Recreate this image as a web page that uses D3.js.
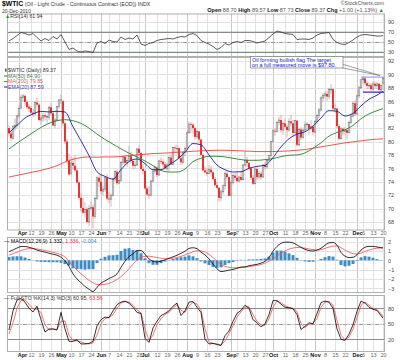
<!DOCTYPE html>
<html><head><meta charset="utf-8">
<script src="https://cdn.jsdelivr.net/npm/d3@7/dist/d3.min.js"></script>
<style>body{margin:0;background:#fff}svg{display:block;font-family:"Liberation Sans",Arial,sans-serif}</style>
</head><body><svg id="c" width="400" height="360"></svg>
<script>
// ---------- DATA ----------
const startDate = "2010-03-25", endDate = "2010-12-20";
const holidays = ["2010-04-02","2010-05-31","2010-07-05","2010-09-06","2010-11-25"];
const tickDates = ["2010-04-01","2010-04-12","2010-04-19","2010-04-26","2010-05-03","2010-05-10","2010-05-17","2010-05-24","2010-06-01","2010-06-07","2010-06-14","2010-06-21","2010-06-28","2010-07-01","2010-07-12","2010-07-19","2010-07-26","2010-08-02","2010-08-09","2010-08-16","2010-08-23","2010-09-01","2010-09-07","2010-09-13","2010-09-20","2010-09-27","2010-10-01","2010-10-11","2010-10-18","2010-10-25","2010-11-01","2010-11-08","2010-11-15","2010-11-22","2010-12-01","2010-12-06","2010-12-13","2010-12-20"];
const tickLabels = ["Apr","12","19","26","May","10","17","24","Jun","7","14","21","28","Jul","12","19","26","Aug","9","16","23","Sep","7","13","20","27","Oct","11","18","25","Nov","8","15","22","Dec","6","13","20"];
const monthLabels = ["Apr","May","Jun","Jul","Aug","Sep","Oct","Nov","Dec"];

const openP = [82.0,81.2,80.5,82.2,82.4, 83.8,85.0,86.6,86.8,85.9, 85.2,85.0,84.3,84.1,85.8, 85.5,83.2,83.5,83.9,83.7, 83.6,85.1,84.2,82.4,83.2, 85.2,86.2,86.0,82.7,80.0, 77.1,75.2,76.8,76.4,75.7, 73.9,71.6,70.1,69.4,69.9, 68.0,70.0,70.2,68.8,71.5, 74.6,74.0,72.6,72.9,74.6, 71.5,71.4,72.0,74.4,75.5, 73.8,74.2,76.9,77.7,76.8, 77.2,77.8,77.1,76.4,76.5, 78.9,78.3,75.9,75.6,73.0, 72.1,72.0,74.1,75.6,76.1, 75.0,77.1,77.0,76.6,76.0, 76.5,77.6,76.6,79.1,79.0, 79.0,77.5,76.9,78.4,79.0, 81.3,82.6,82.5,82.0,80.7, 81.5,80.3,78.0,75.7,75.4, 75.2,75.8,75.4,74.4,73.5, 73.1,71.6,72.5,73.4,75.2, 74.7,72.0,73.9,74.9,74.6, 74.1,74.7,74.3,76.5,77.2, 76.8,76.0,74.6,73.7,75.9, 74.7,75.2,74.7,76.5,76.2, 77.2,77.9,80.0,81.6,81.5, 82.8,83.2,81.7,82.7,82.2, 81.7,83.0,82.7,81.3,83.1, 79.5,81.8,80.6,81.7,82.5, 82.6,81.9,82.2,81.4,83.0, 83.9,84.7,86.5,86.9,87.1, 86.7,87.8,87.8,84.9,84.9, 82.3,80.4,81.9,81.5,81.7, 81.3,82.8,83.8,85.7,84.1, 86.8,88.0,89.2,89.4,88.7, 88.3,88.4,87.8,88.6,88.3, 88.6,87.7,88.70];
const highP = [82.5,81.6,82.4,83.4,84.0, 85.4,87.0,87.1,87.0,86.2, 85.6,85.3,84.8,86.0,86.5, 85.7,83.9,84.3,84.2,84.0, 85.3,85.8,84.5,83.5,85.3, 86.3,87.0,86.2,83.0,80.4, 78.2,77.8,77.6,77.9,76.0, 74.2,72.3,71.6,71.0,70.2, 70.5,71.2,70.6,71.8,74.8, 75.0,75.0,73.4,74.8,75.1, 72.5,72.2,74.6,75.7,75.8, 75.0,77.1,77.9,77.9,77.5, 79.4,78.5,77.3,77.1,79.0, 79.4,78.4,76.6,75.8,73.4, 73.3,74.3,75.7,76.4,76.3, 77.3,77.6,77.4,77.0,76.8, 77.8,78.0,79.2,79.4,79.5, 79.2,77.9,78.6,79.2,81.5, 83.0,82.9,82.7,82.2,81.8, 81.6,80.4,78.2,76.3,76.0, 76.5,76.4,75.6,74.7,74.0, 73.2,72.8,73.6,75.6,75.6, 74.8,74.2,75.2,75.3,75.4, 74.9,75.5,76.6,78.5,77.7, 77.0,76.2,75.0,76.1,76.4, 75.6,75.6,76.6,77.0,77.3, 78.0,80.1,81.9,82.0,83.0, 83.7,84.0,83.0,83.4,82.5, 83.5,84.0,83.2,83.2,83.2, 82.0,82.1,81.9,83.0,82.9, 82.6,83.2,82.4,83.2,84.1, 85.0,86.8,87.2,87.5,87.5, 88.0,88.6,87.9,85.6,85.0, 82.6,82.2,82.1,82.2,81.8, 83.1,84.2,86.0,86.1,87.0, 88.3,89.4,89.6,89.7,89.0, 88.9,88.7,89.0,89.0,88.9, 88.7,88.6,89.57];
const lowP = [80.8,80.1,80.3,81.6,82.0, 83.5,84.8,85.9,85.3,84.8, 84.4,84.0,83.7,84.0,85.2, 83.0,82.4,82.9,83.1,82.6, 83.2,83.9,82.2,82.0,83.0, 84.9,85.6,82.3,79.6,76.8, 74.9,75.0,75.8,75.5,73.7, 71.3,69.5,69.2,68.7,67.8, 67.4,69.7,67.0,68.5,71.3, 73.2,72.2,71.9,72.5,71.2, 70.8,70.3,71.8,74.0,73.5, 73.6,74.0,76.5,76.4,76.2, 77.0,76.8,75.8,75.9,76.3, 78.0,75.7,75.1,72.8,71.9, 71.5,71.9,73.9,75.2,74.7, 74.9,76.6,76.0,75.8,75.7, 75.5,76.4,76.5,78.4,78.2, 77.3,76.5,76.7,77.8,79.0, 81.2,81.3,81.2,80.2,80.4, 79.8,77.9,75.6,75.3,74.9, 75.1,75.2,74.2,73.2,72.9, 71.0,71.1,72.1,72.8,74.3, 71.9,71.8,73.6,74.2,73.9, 73.9,74.1,74.2,76.3,76.2, 75.7,74.3,73.5,73.6,74.2, 74.3,74.3,74.6,75.8,75.9, 76.9,77.6,79.8,80.9,81.3, 82.5,81.3,81.0,81.9,80.6, 81.5,82.4,80.8,81.1,79.2, 79.3,80.3,80.3,81.5,81.6, 81.0,81.7,80.9,81.2,82.7, 83.4,84.6,86.0,86.4,86.0, 86.3,87.1,84.6,84.3,82.0, 80.2,80.3,80.9,80.9,80.3, 81.2,82.6,83.6,83.8,84.0, 86.4,87.8,88.6,88.4,87.8, 87.8,87.5,87.6,87.9,87.8, 87.5,87.5,87.73];
const closeP = [81.2,80.5,82.2,82.4,83.8, 84.9,86.6,86.8,85.9,85.1, 84.9,84.3,84.1,85.8,85.5, 83.2,83.5,83.9,83.7,83.7, 85.1,84.2,82.4,83.2,85.2, 86.2,86.2,82.7,80.0,77.1, 75.1,76.8,76.4,75.7,73.9, 71.6,70.1,69.4,69.9,68.0, 70.0,70.2,68.8,71.5,74.6, 74.0,72.6,72.9,74.6,71.5, 71.4,72.0,74.4,75.5,73.8, 74.2,76.9,77.7,76.8,77.2, 77.8,77.1,76.4,76.5,78.9, 78.3,75.9,75.6,73.0,72.1, 72.0,74.1,75.6,76.1,75.0, 77.1,77.0,76.6,76.0,76.5, 77.6,76.6,79.1,79.0,79.0, 77.5,76.9,78.4,79.0,81.3, 82.6,82.5,82.0,80.7,81.5, 80.3,78.0,75.7,75.4,75.2, 75.8,75.4,74.4,73.5,73.1, 71.6,72.5,73.4,75.2,74.7, 71.9,73.9,74.9,74.6,74.1, 74.7,74.3,76.5,77.2,76.8, 76.0,74.6,73.7,75.9,74.7, 75.2,74.7,76.5,76.2,77.2, 77.9,80.0,81.6,81.5,82.8, 83.2,81.7,82.7,82.2,81.7, 83.0,82.7,81.3,83.1,79.5, 81.8,80.6,81.7,82.5,82.6, 81.9,82.2,81.4,83.0,83.9, 84.7,86.5,86.9,87.1,86.7, 87.8,87.8,84.9,84.9,82.3, 80.4,81.9,81.5,81.7,81.3, 82.8,83.8,85.7,84.1,86.8, 88.0,89.2,89.4,88.7,88.3, 88.4,87.8,88.6,88.3,88.6, 87.7,88.37,89.37];

// moving averages read every 4 trading days (plus last day)
const ema20 = [81.3,82.4,83.5,84.1,84.5,84.4,84.5,84.4,82.2,80.1,77.9,75.5,74.8,74.4,75.8,77.0,77.4,76.7,75.8,75.8,76.5,77.3,78.4,79.7,79.5,78.0,76.5,75.8,75.45,75.5,76.0,76.3,76.45,77.6,79.2,80.4,81.1,81.45,82.3,83.5,84.6,84.5,83.8,84.2,85.3,86.3,86.9,87.5];
const sma50 = [78.9,79.75,80.55,81.35,82.1,82.7,83.1,83.25,83.1,82.7,82.0,81.1,80.3,79.6,78.9,78.25,77.7,77.1,76.4,75.7,75.45,75.45,75.9,77.0,77.5,77.8,77.8,77.7,77.5,77.3,77.2,77.2,77.3,77.45,77.75,77.95,78.0,78.3,79.0,79.8,80.8,81.35,81.75,82.4,83.4,84.1,84.6,84.9];
const sma200 = [74.7,74.95,75.2,75.45,75.7,76.0,76.4,76.95,77.35,77.6,77.7,77.65,77.7,77.7,77.75,77.9,78.0,78.1,78.2,78.25,78.3,78.4,78.45,78.55,78.6,78.65,78.7,78.7,78.65,78.6,78.55,78.5,78.5,78.5,78.55,78.6,78.7,78.8,79.0,79.2,79.4,79.6,79.8,79.95,80.1,80.25,80.35,80.4];

// indicators read every 2 trading days (plus last day)
const rsi14 = [51,56,62,68,66,63,66,58,51,56,52,60,55,64,49,34,37,31,29,31,30,28,47,50,46,53,50,49,59,54,57,55,63,45,42,46,48,52,54,55,56,55,58,60,59,64,66,62,52,48,45,40,34,38,46,43,48,50,48,52,52,50,47,49,51,58,65,71,69,66,65,64,54,55,55,54,57,63,66,67,68,54,48,45,44,48,53,59,63,64,63,62,61,61,61.94];
const macdLine = [0.92,1.12,1.32,1.48,1.48,1.40,1.28,1.10,0.98,0.88,0.76,0.66,0.55,0.34,-0.05,-0.65,-1.45,-2.0,-2.4,-2.8,-3.1,-3.35,-2.9,-2.45,-2.2,-1.95,-1.75,-1.45,-0.75,-0.1,0.4,0.7,1.05,1.05,0.65,0.15,-0.1,-0.18,-0.08,0.05,0.22,0.38,0.54,0.75,0.98,1.28,1.35,1.25,0.88,0.58,0.15,-0.4,-0.9,-1.2,-1.15,-1.05,-0.98,-0.85,-0.72,-0.7,-0.58,-0.5,-0.43,-0.3,-0.1,0.3,0.98,1.5,1.82,1.95,1.95,1.88,1.65,1.4,1.18,1.05,1.0,1.1,1.3,1.62,1.88,1.92,1.62,0.85,0.45,0.3,0.33,0.6,1.1,1.4,1.5,1.5,1.43,1.36,1.332];
const signalLine = [0.56,0.7,0.88,1.05,1.18,1.25,1.26,1.22,1.15,1.06,0.96,0.86,0.76,0.6,0.36,-0.1,-0.6,-1.05,-1.45,-1.8,-2.15,-2.4,-2.6,-2.62,-2.58,-2.48,-2.3,-2.05,-1.75,-1.35,-0.9,-0.4,0.0,0.3,0.43,0.45,0.38,0.3,0.22,0.18,0.18,0.23,0.3,0.42,0.58,0.75,0.92,1.02,1.0,0.9,0.65,0.3,-0.1,-0.45,-0.65,-0.75,-0.8,-0.8,-0.78,-0.74,-0.68,-0.6,-0.54,-0.45,-0.3,-0.1,0.15,0.45,0.78,1.02,1.2,1.32,1.38,1.36,1.3,1.22,1.15,1.1,1.15,1.28,1.42,1.52,1.55,1.35,1.1,0.88,0.72,0.68,0.78,0.95,1.1,1.22,1.3,1.33,1.336];
const stoK = [38,75,96,99,92,80,73,84,58,34,40,40,38,72,40,16,16,19,11,11,12,16,46,58,63,62,75,87,92,94,90,82,72,70,22,14,42,55,66,70,75,84,90,66,75,92,93,82,72,20,11,12,10,8,27,36,55,70,76,86,80,58,52,44,50,68,95,95,88,82,81,79,68,39,45,52,50,70,91,94,92,80,40,20,18,30,48,74,94,90,82,78,76,66,60.95];
const stoD = [30,52,80,95,96,88,79,78,72,48,38,40,39,55,55,28,18,17,15,12,11,13,28,50,60,62,68,80,90,93,92,86,77,71,40,18,28,48,60,68,72,80,87,76,72,84,92,88,77,40,15,12,11,9,17,31,46,63,73,82,83,68,55,48,47,60,82,94,91,85,82,80,74,50,43,49,51,60,82,92,93,86,57,28,19,24,40,62,86,92,86,80,77,70,63.56];

const priceTicks = [68,70,72,74,76,78,80,82,84,86,88,90,92];
const rsiTicks = [30,50,70,90];
const macdTicks = [-3,-2,-1,0,1,2];
const stoTicks = [20,50,80];
const flagTop = 89.6, flagBottom = 87.35;

// ---------- BUILD ----------
const tradingDays = [];
for (let d = new Date(startDate + "T00:00:00Z"); d <= new Date(endDate + "T00:00:00Z"); d.setUTCDate(d.getUTCDate() + 1)) {
  const wd = d.getUTCDay(), s = d.toISOString().slice(0, 10);
  if (wd === 0 || wd === 6 || holidays.includes(s)) continue;
  tradingDays.push(s);
}
const N = tradingDays.length;
const last = N - 1;
const maDays = d3.range(0, N - 1, 4).concat([last]);
const indDays = d3.range(0, N - 1, 2).concat([last]);
const tickIdx = tickDates.map(s => tradingDays.indexOf(s));

const L = 7, R = 385;
const x = d3.scaleLinear().domain([0, last]).range([9, 383]);
const P = {rsi: [13.5, 57], price: [57, 230.5], macd: [237, 293], sto: [295, 352]};
const yR = d3.scaleLinear().domain([30, 70]).range([51.5, 31.5]);
const yP = d3.scaleLinear().domain([68, 92]).range([222, 61]);
const yM = d3.scaleLinear().domain([-3, 2]).range([288.3, 241.7]);
const yS = d3.scaleLinear().domain([20, 80]).range([339.3, 308.3]);

const svg = d3.select("#c");
const defs = svg.append("defs");
Object.entries(P).forEach(([k, [t, b]]) => {
  defs.append("clipPath").attr("id", "clip-" + k).append("rect").attr("x", L).attr("y", t).attr("width", R - L).attr("height", b - t);
});
const gridC = "#e2e2e2";

function panel(key, yScale, ticks) {
  const [t, b] = P[key];
  const g = svg.append("g");
  g.append("rect").attr("x", L).attr("y", t).attr("width", R - L).attr("height", b - t).attr("fill", "#fff");
  g.selectAll(".vg").data(tickIdx).join("line")
    .attr("x1", d => x(d) + 0.5).attr("x2", d => x(d) + 0.5).attr("y1", t).attr("y2", b)
    .attr("stroke", (d, i) => monthLabels.includes(tickLabels[i]) ? "#c8c8c8" : gridC).attr("stroke-width", 1);
  g.selectAll(".hg").data(ticks).join("line")
    .attr("x1", L).attr("x2", R).attr("y1", d => Math.round(yScale(d)) + 0.5).attr("y2", d => Math.round(yScale(d)) + 0.5)
    .attr("stroke", gridC);
  const ax = svg.append("g").attr("transform", `translate(${R},0)`)
    .call(d3.axisRight(yScale).tickValues(ticks).tickFormat(d3.format("d")).tickSize(0).tickPadding(3));
  ax.select(".domain").remove();
  ax.selectAll("text").attr("font-size", 5.5).attr("fill", "#444").attr("font-family", "Liberation Sans, Arial, sans-serif");
  return g;
}
function frame(key) {
  const [t, b] = P[key];
  svg.append("rect").attr("x", L + 0.5).attr("y", t + 0.5).attr("width", R - L - 1).attr("height", b - t - 1)
    .attr("fill", "none").attr("stroke", "#b0b0b0").attr("stroke-width", 1);
}
function dateAxis(yPos) {
  const ax = svg.append("g").attr("transform", `translate(0,${yPos})`)
    .call(d3.axisBottom(x).tickValues(tickIdx).tickFormat((d, i) => tickLabels[i]).tickSize(0).tickPadding(0));
  ax.select(".domain").remove();
  const isMonth = d => monthLabels.includes(tickLabels[tickIdx.indexOf(d)]);
  ax.selectAll("text").attr("font-size", 5.5).attr("font-family", "Liberation Sans, Arial, sans-serif")
    .attr("fill", d => isMonth(d) ? "#111" : "#666")
    .attr("font-weight", d => isMonth(d) ? "bold" : "normal");
  ax.selectAll("text").filter(d => d === tickIdx[0]).attr("dx", 3);
}

// ----- header -----
const hdr = svg.append("text").attr("x", 2).attr("y", 6).attr("font-size", 5.3).attr("fill", "#333");
hdr.append("tspan").attr("font-weight", "bold").attr("font-size", 6.8).attr("fill", "#000").text("$WTIC");
hdr.append("tspan").text(" (Oil - Light Crude - Continuous Contract (EOD)) INDX");
svg.append("text").attr("x", 2).attr("y", 12.6).attr("font-size", 5).attr("fill", "#333").text("20-Dec-2010");
svg.append("text").attr("x", 384).attr("y", 5.3).attr("text-anchor", "end").attr("font-size", 5.2).attr("fill", "#555").text("©StockCharts.com");
const hv = svg.append("text").attr("x", 384).attr("y", 11.6).attr("text-anchor", "end").attr("font-size", 5.5).attr("fill", "#555");
[["Open", " 88.70 "], ["High", " 89.57 "], ["Low", " 87.73 "], ["Close", " 89.37 "], ["Chg", " +1.00 (+1.13%) "]].forEach(([k, v]) => {
  hv.append("tspan").attr("font-weight", "bold").attr("fill", "#111").text(k);
  hv.append("tspan").text(v);
});
hv.append("tspan").attr("fill", "#2a9a2a").text("▲");

// ----- RSI panel -----
panel("rsi", yR, rsiTicks);
const gR = svg.append("g").attr("clip-path", "url(#clip-rsi)");
defs.append("clipPath").attr("id", "rsiLow").append("rect").attr("x", L).attr("y", yR(30)).attr("width", R - L).attr("height", 20);
defs.append("clipPath").attr("id", "rsiHigh").append("rect").attr("x", L).attr("y", P.rsi[0]).attr("width", R - L).attr("height", yR(70) - P.rsi[0]);
const rsiPts = indDays.map((d, i) => [d, rsi14[i]]);
gR.append("path").attr("clip-path", "url(#rsiLow)").attr("fill", "#e04040").attr("fill-opacity", 0.85)
  .attr("d", d3.area().x(d => x(d[0])).y0(yR(30)).y1(d => yR(d[1]))(rsiPts));
gR.append("path").attr("clip-path", "url(#rsiHigh)").attr("fill", "#2a9a2a").attr("fill-opacity", 0.9)
  .attr("d", d3.area().x(d => x(d[0])).y0(yR(70)).y1(d => yR(d[1]))(rsiPts));
[30, 70].forEach(v => gR.append("line").attr("x1", L).attr("x2", R).attr("y1", Math.round(yR(v)) + 0.5).attr("y2", Math.round(yR(v)) + 0.5).attr("stroke", "#8a8a8a"));
gR.append("line").attr("x1", L).attr("x2", R).attr("y1", Math.round(yR(50)) + 0.5).attr("y2", Math.round(yR(50)) + 0.5).attr("stroke", "#999").attr("stroke-dasharray", "4,1.5,1,1.5");
gR.append("path").attr("fill", "none").attr("stroke", "#333").attr("stroke-width", 0.8)
  .attr("d", d3.line().x(d => x(d[0])).y(d => yR(d[1]))(rsiPts));
frame("rsi");
const rl = svg.append("text").attr("x", 5).attr("y", 18.3).attr("font-size", 5.2).attr("fill", "#333");
rl.append("tspan").attr("fill", "#2a8a2a").text("▲");
rl.append("tspan").text("RSI(14) 61.94");

// ----- price panel -----
panel("price", yP, priceTicks);
const gP = svg.append("g").attr("clip-path", "url(#clip-price)");
const ohlc = tradingDays.map((d, i) => ({i, o: openP[i], h: highP[i], l: lowP[i], c: closeP[i], pc: i ? closeP[i - 1] : openP[i]}));
const colorOf = d => d.c < d.pc ? "#e01010" : "#6a6a6a";
gP.selectAll(".wick").data(ohlc).join("line")
  .attr("x1", d => x(d.i)).attr("x2", d => x(d.i)).attr("y1", d => yP(d.h)).attr("y2", d => yP(d.l))
  .attr("stroke", d => d.c < d.pc ? "#f28080" : "#a8a8a8").attr("stroke-width", 0.7);
gP.selectAll(".body").data(ohlc).join("rect")
  .attr("x", d => x(d.i) - 0.8).attr("width", 1.6)
  .attr("y", d => yP(Math.max(d.o, d.c))).attr("height", d => Math.max(0.8, Math.abs(yP(d.o) - yP(d.c))))
  .attr("fill", d => d.c < d.o ? colorOf(d) : "#fff")
  .attr("stroke", d => colorOf(d)).attr("stroke-width", d => d.c < d.o ? 0 : 0.55);
const maLine = d3.line().x(d => x(d[0])).y(d => yP(d[1])).curve(d3.curveMonotoneX);
const maSeries = [[sma200, "#f04040"], [sma50, "#2f7f2f"], [ema20, "#1e1e9a"]];
maSeries.forEach(([arr, col]) => gP.append("path").attr("fill", "none").attr("stroke", col).attr("stroke-width", 0.9)
  .attr("d", maLine(maDays.map((d, i) => [d, arr[i]]))));
gP.append("line").attr("x1", x(177) - 2).attr("x2", x(last) + 1).attr("y1", yP(flagTop)).attr("y2", yP(flagTop)).attr("stroke", "#8c8cf0").attr("stroke-width", 1);
gP.append("line").attr("x1", x(177)).attr("x2", x(last) + 1).attr("y1", yP(flagBottom)).attr("y2", yP(flagBottom)).attr("stroke", "#2a2ae0").attr("stroke-width", 1.2);
frame("price");
const lg = svg.append("g").attr("font-size", 5.3);
lg.append("rect").attr("x", 5).attr("y", 68.6).attr("width", 1.6).attr("height", 3).attr("fill", "#555");
lg.append("text").attr("x", 8).attr("y", 72.3).attr("fill", "#333").text("$WTIC (Daily) 89.37");
[["MA(50) 84.90", "#2f7f2f", "#4a7a4a"], ["MA(200) 79.85", "#f04040", "#e06060"], ["EMA(20) 87.59", "#1e1e9a", "#3a3aa0"]].forEach(([t, c, tc], k) => {
  const yy = 77.8 + k * 5.5;
  lg.append("line").attr("x1", 4).attr("x2", 7.5).attr("y1", yy - 1.8).attr("y2", yy - 1.8).attr("stroke", c).attr("stroke-width", 1);
  lg.append("text").attr("x", 8).attr("y", yy).attr("fill", tc).text(t);
});
svg.append("path").attr("d", "M342,64 L380,75.5 L342,67.8").attr("fill", "none").attr("stroke", "#777").attr("stroke-width", 0.7);
svg.append("rect").attr("x", 250.5).attr("y", 56.5).attr("width", 92.5).attr("height", 11.5).attr("fill", "#fff").attr("stroke", "#888").attr("stroke-width", 0.8);
svg.append("text").attr("x", 252).attr("y", 61.6).attr("font-size", 5.4).attr("fill", "#1515d0").text("Oil forming bullish flag.The target");
svg.append("text").attr("x", 252).attr("y", 67).attr("font-size", 5.4).attr("fill", "#1515d0").text("on a full measured move is $97.80.");
dateAxis(231.5);

// ----- MACD panel -----
panel("macd", yM, macdTicks);
const gM = svg.append("g").attr("clip-path", "url(#clip-macd)");
const macdPts = indDays.map((d, i) => ({d, m: macdLine[i], s: signalLine[i], h: macdLine[i] - signalLine[i]}));
gM.selectAll(".hb").data(macdPts).join("rect")
  .attr("x", p => x(p.d) - 1.5).attr("width", 3)
  .attr("y", p => Math.min(yM(0), yM(p.h))).attr("height", p => Math.abs(yM(p.h) - yM(0)))
  .attr("fill", "#3d8cc4");
gM.append("path").attr("fill", "none").attr("stroke", "#f05050").attr("stroke-width", 0.8)
  .attr("d", d3.line().x(p => x(p.d)).y(p => yM(p.s)).curve(d3.curveMonotoneX)(macdPts));
gM.append("path").attr("fill", "none").attr("stroke", "#000").attr("stroke-width", 0.8)
  .attr("d", d3.line().x(p => x(p.d)).y(p => yM(p.m)).curve(d3.curveMonotoneX)(macdPts));
frame("macd");
const ml = svg.append("text").attr("x", 4).attr("y", 242.8).attr("font-size", 5.3).attr("fill", "#333");
ml.append("tspan").attr("fill", "#000").text("— MACD(12,26,9) 1.332, ");
ml.append("tspan").attr("fill", "#e04040").text("1.336");
ml.append("tspan").text(", ");
ml.append("tspan").attr("fill", "#3d8cc4").text("-0.004");

// ----- Stochastics panel -----
panel("sto", yS, stoTicks);
const gS = svg.append("g").attr("clip-path", "url(#clip-sto)");
[20, 80].forEach(v => gS.append("line").attr("x1", L).attr("x2", R).attr("y1", Math.round(yS(v)) + 0.5).attr("y2", Math.round(yS(v)) + 0.5).attr("stroke", "#8a8a8a"));
gS.append("line").attr("x1", L).attr("x2", R).attr("y1", Math.round(yS(50)) + 0.5).attr("y2", Math.round(yS(50)) + 0.5).attr("stroke", "#999").attr("stroke-dasharray", "4,1.5,1,1.5");
const stoLine = d3.line().x(d => x(d[0])).y(d => yS(d[1]));
gS.append("path").attr("fill", "none").attr("stroke", "#f05050").attr("stroke-width", 0.8).attr("d", stoLine(indDays.map((d, i) => [d, stoD[i]])));
gS.append("path").attr("fill", "none").attr("stroke", "#000").attr("stroke-width", 0.8).attr("d", stoLine(indDays.map((d, i) => [d, stoK[i]])));
frame("sto");
const sl = svg.append("text").attr("x", 4).attr("y", 300).attr("font-size", 5.3).attr("fill", "#333");
sl.append("tspan").text("— Full STO %K(14,3) %D(3) 60.95, ");
sl.append("tspan").attr("fill", "#e04040").text("63.56");
dateAxis(353.5);
</script></body></html>
